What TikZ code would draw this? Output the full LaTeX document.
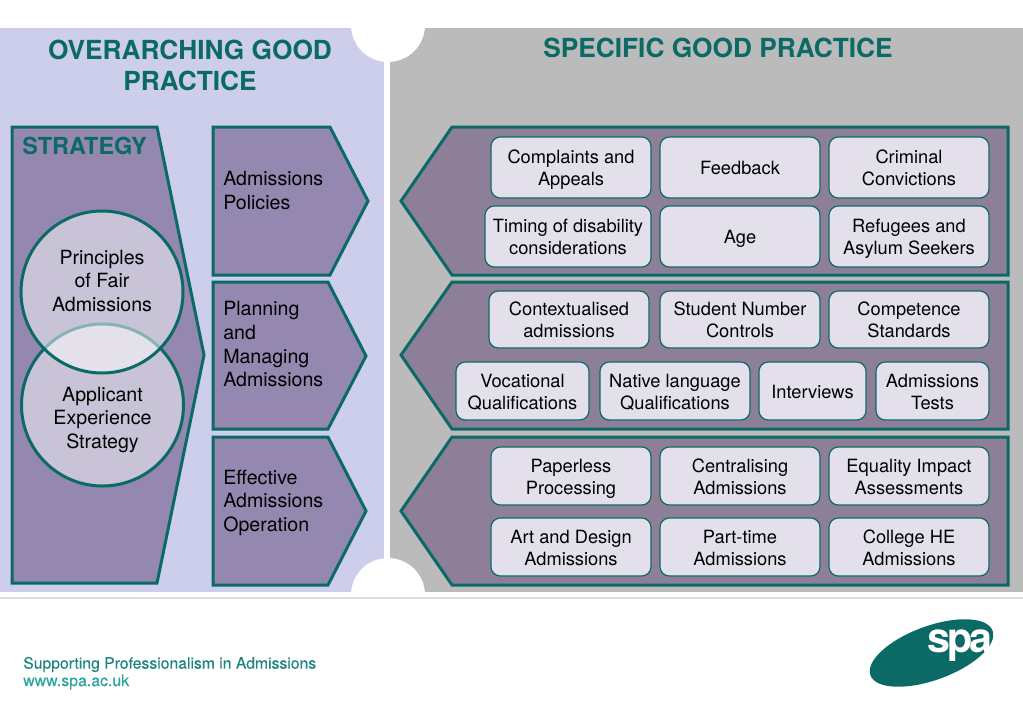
\documentclass[tikz,border=0pt]{standalone}
\usepackage{fontspec}
\setmainfont{TeX Gyre Heros}
\newfontfamily\footfont[FakeBold=0.3]{TeX Gyre Heros}
\usepackage{xcolor}
\definecolor{spateal}{HTML}{0B6A66}
\definecolor{footteal}{HTML}{1F8580}
\definecolor{urlteal}{HTML}{2BA39E}
\definecolor{lavpanel}{HTML}{CDCDEC}
\definecolor{graypanel}{HTML}{BBBBBB}
\definecolor{stratfill}{HTML}{9488B0}
\definecolor{chevfill}{HTML}{8E7F98}
\definecolor{boxfill}{HTML}{E3E0EC}
\definecolor{rulecol}{HTML}{D5E2E2}
\tikzset{
  heading/.style={text=spateal,font=\fontsize{19.7}{23.2}\selectfont\bfseries,align=center},
  stagelabel/.style={anchor=west,align=left,inner sep=0pt,font=\fontsize{14.7}{17.7}\selectfont},
  stageshape/.style={draw=spateal,line width=2.25pt,fill=stratfill},
  chevshape/.style={draw=spateal,line width=2.25pt,fill=chevfill},
  venn/.style={circle,draw=spateal,line width=2.25pt,minimum size=121.5pt,inner sep=0pt,fill=white,fill opacity=0.5},
  vennlabel/.style={align=center,inner sep=0pt,font=\fontsize{14.7}{17.7}\selectfont},
  goodbox/.style={draw=spateal,line width=0.9pt,fill=boxfill,rounded corners=7pt,align=center,inner sep=0pt,
    font=\fontsize{13.7}{16.5}\selectfont},
}
\newcommand{\goodnode}[6]{%
  \node[goodbox,minimum width={(#4-#2)*0.75pt},minimum height={(#5-#3)*0.75pt}] (#1) at ({(#2+#4)/2},{(#3+#5)/2}) {\rule{0pt}{16pt}#6\strut};}
\begin{document}
\begin{tikzpicture}[x=0.75pt,y=-0.75pt]
\useasboundingbox (0,0) rectangle (1023,708);
% panels
\fill[lavpanel] (0,28) rectangle (384,592);
\fill[graypanel] (390,28) rectangle (1023,592);
\fill[white] (384,28) rectangle (390,592);
\fill[white] (388,25) circle[radius=37];
\fill[white] (388,595) circle[radius=37];
\fill[white] (340,592) rectangle (440,600);
\draw[rulecol,line width=1.2pt] (0,598)--(1023,598);
\node[heading] (overarching) at (190,65.5) {OVERARCHING GOOD\\PRACTICE};
\node[heading] (specific) at (718,47.5) {SPECIFIC GOOD PRACTICE};
% left column
\draw[stageshape] (12,127)--(157,127)--(204,355)--(157,583)--(12,583)--cycle;
\node[anchor=west,inner sep=0pt,text=spateal,font=\fontsize{17.6}{20}\selectfont\bfseries] (strategy) at (22,146) {STRATEGY};
\node[venn] (applicant) at (102.5,405) {};
\node[venn] (principles) at (102,292) {};
\node[vennlabel] (principleslabel) at (102,283) {\strut Principles\\of Fair\\Admissions\strut};
\node[vennlabel] (applicantlabel) at (102.5,420) {\strut Applicant\\Experience\\Strategy\strut};
\draw[stageshape] (213,127)--(330,127)--(368,201)--(330,275)--(213,275)--cycle;
\draw[stageshape] (213,282)--(328,282)--(366,356)--(328,429)--(213,429)--cycle;
\draw[stageshape] (213,437)--(328,437)--(366,511)--(328,585)--(213,585)--cycle;
\node[stagelabel] (policies) at (223,192.5) {\strut Admissions\\Policies\strut};
\node[stagelabel] (planning) at (223,346.5) {\strut Planning\\and\\Managing\\Admissions\strut};
\node[stagelabel] (operation) at (223,503) {\strut Effective\\Admissions\\Operation\strut};
% right column
\foreach \ytop/\ymid/\ybot in {127/201/275,282/355/429,437/511/585}{
  \draw[chevshape] (452,\ytop)--(1008,\ytop)--(1008,\ybot)--(452,\ybot)--(401,\ymid)--cycle;
}
\goodnode{complaints}{491}{137}{651}{198}{Complaints and\\Appeals}
\goodnode{feedback}{660}{137}{820}{198}{Feedback}
\goodnode{criminal}{829}{137}{989}{198}{Criminal\\Convictions}
\goodnode{timing}{485}{206}{651}{267}{Timing of disability\\considerations}
\goodnode{age}{660}{206}{820}{267}{Age}
\goodnode{refugees}{829}{206}{989}{267}{Refugees and\\Asylum Seekers}
\goodnode{context}{489}{291}{649}{348}{Contextualised\\admissions}
\goodnode{controls}{660}{291}{820}{348}{Student Number\\Controls}
\goodnode{competence}{829}{291}{989}{348}{Competence\\Standards}
\goodnode{vocational}{456}{362}{589}{420}{Vocational\\Qualifications}
\goodnode{native}{600}{362}{750}{420}{Native language\\Qualifications}
\goodnode{interviews}{759}{362}{866}{420}{Interviews}
\goodnode{tests}{876}{362}{989}{420}{Admissions\\Tests}
\goodnode{paperless}{491}{447}{651}{505}{Paperless\\Processing}
\goodnode{centralising}{660}{447}{820}{505}{Centralising\\Admissions}
\goodnode{equality}{829}{447}{989}{505}{Equality Impact\\Assessments}
\goodnode{artdesign}{491}{518}{651}{576}{Art and Design\\Admissions}
\goodnode{parttime}{660}{518}{820}{576}{Part-time\\Admissions}
\goodnode{college}{829}{518}{989}{576}{College HE\\Admissions}
% footer
\node[anchor=west,inner sep=0pt,text=footteal,font=\footfont\fontsize{11.8}{14}\selectfont] (strapline) at (23,664.5) {Supporting Professionalism in Admissions};
\node[anchor=west,inner sep=0pt,text=urlteal,font=\footfont\fontsize{11.9}{14}\selectfont] (website) at (23,682) {www.spa.ac.uk};
\fill[spateal,rotate around={20:(931.5,653)}] (931.5,653) ellipse[x radius=65,y radius=27];
\node[text=white,inner sep=0pt,font=\fontsize{31}{31}\selectfont\bfseries\addfontfeature{LetterSpace=-7}] (spalogo) at (960,646) {spa};
\end{tikzpicture}
\end{document}
